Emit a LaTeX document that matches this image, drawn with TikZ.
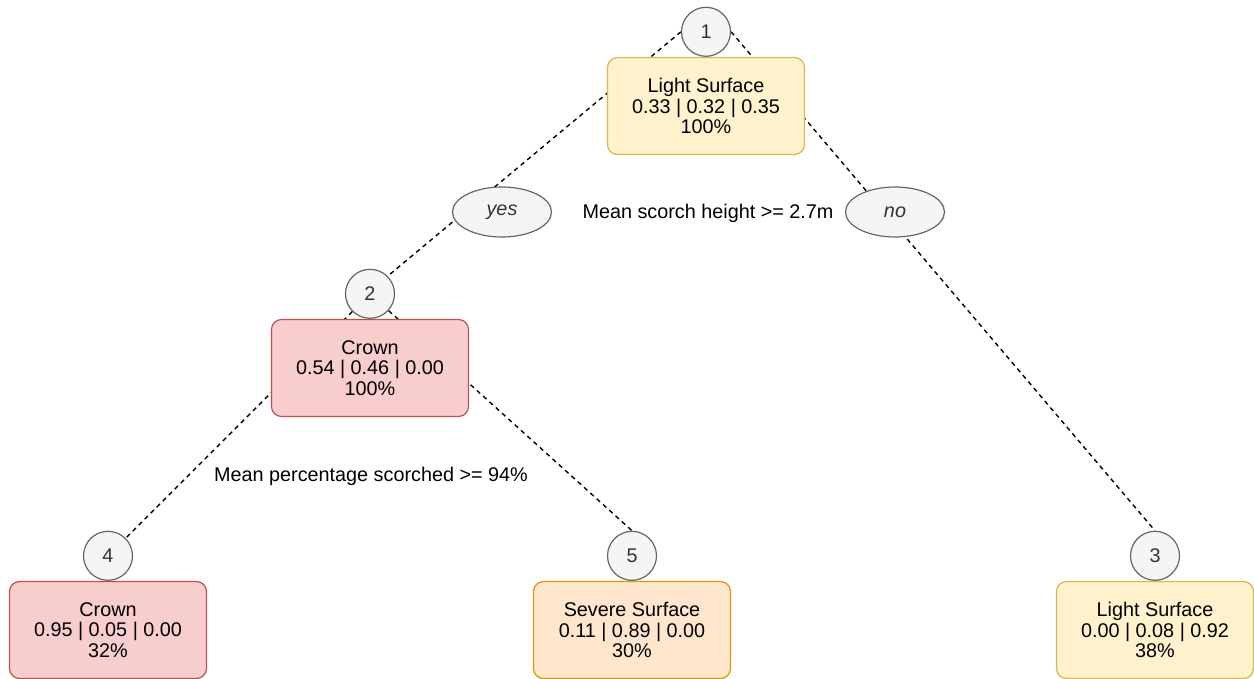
\documentclass[tikz,border=0pt]{standalone}
\usepackage{fontspec}
\setmainfont{Liberation Sans}
\usepackage{tikz}
\usetikzlibrary{positioning, shapes.geometric, backgrounds}
\definecolor{lightfill}{HTML}{FFF2CC}
\definecolor{lightline}{HTML}{D6B656}
\definecolor{crownfill}{HTML}{F8CECC}
\definecolor{crownline}{HTML}{B85450}
\definecolor{severefill}{HTML}{FFE6CC}
\definecolor{severeline}{HTML}{D79B00}
\definecolor{numfill}{HTML}{F5F5F5}
\definecolor{numline}{HTML}{666666}
\definecolor{numtext}{HTML}{333333}
\tikzset{
    box/.style={draw, rounded corners=10pt, line width=1.2pt,
               minimum width=197pt, minimum height=97pt,
               align=center, inner sep=2pt},
  lightbox/.style={box, fill=lightfill, draw=lightline},
  crownbox/.style={box, fill=crownfill, draw=crownline},
  severebox/.style={box, fill=severefill, draw=severeline},
  numnode/.style={circle, draw=numline, fill=numfill, line width=1.2pt,
                  minimum size=49pt, inner sep=0pt, text=numtext},
  answer/.style={ellipse, draw=numline, fill=numfill, line width=1.2pt,
                 minimum width=99pt, minimum height=50pt, inner sep=0pt,
                 text=numtext, font=\fontsize{19.8}{21}\selectfont\itshape},
  splitline/.style={line width=1.4pt, dash pattern=on 4.5pt off 4pt}
}

\begin{document}
\begin{tikzpicture}[x=1pt, y=-1pt, node distance=0pt,
                    font=\fontsize{19.8}{20.8}\selectfont]
    \useasboundingbox (0,0) rectangle (1254,679);

    \node[lightbox] (root) at (706,106) {Light Surface\\0.33 | 0.32 | 0.35\\100\%};
    \node[numnode, above=of root] (n1) {1};
    \node[crownbox] (crown) at (370,368) {Crown\\0.54 | 0.46 | 0.00\\100\%};
    \node[numnode, above=of crown] (n2) {2};
    \node[lightbox] (light) at (1155,630) {Light Surface\\0.00 | 0.08 | 0.92\\38\%};
    \node[numnode, above=of light] (n3) {3};
    \node[crownbox] (crownleaf) at (108,630) {Crown\\0.95 | 0.05 | 0.00\\32\%};
    \node[numnode, above=of crownleaf] (n4) {4};
    \node[severebox] (severe) at (632,630) {Severe Surface\\0.11 | 0.89 | 0.00\\30\%};
    \node[numnode, above=of severe] (n5) {5};

    \node[answer] (yes) at (502,212) {yes};
    \node[answer] (no) at (895,212) {no};
    \node (height) at (708,213) {Mean scorch height >= 2.7m};
    \node (scorched) at (371,476) {Mean percentage scorched >= 94\%};

    \begin{scope}[on background layer]
    \draw[splitline] (n1.west) -- (n2.north east);
    \draw[splitline] (n1.east) -- (n3.north);
    \draw[splitline] (n2.south west) -- (n4.north east);
    \draw[splitline] (n2) -- (n5.north);
    \end{scope}
\end{tikzpicture}
\end{document}
